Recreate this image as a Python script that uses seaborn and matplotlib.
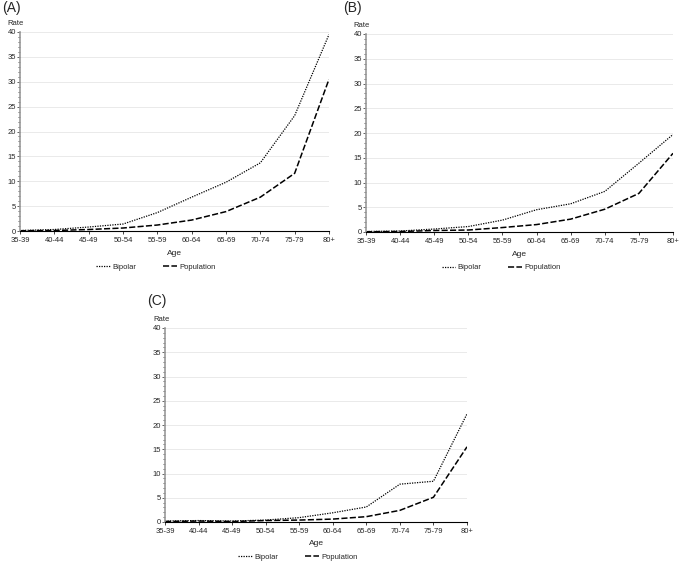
import numpy as np
import pandas as pd
import matplotlib
matplotlib.use("Agg")
import matplotlib.pyplot as plt
from matplotlib.ticker import MultipleLocator
import seaborn as sns

# age bands on the x axis
ages = ["35-39", "40-44", "45-49", "50-54", "55-59", "60-64",
        "65-69", "70-74", "75-79", "80+"]

# rates, one pair of series per panel
bipolar_a = [0.1, 0.3, 0.8, 1.4, 3.7, 6.8, 9.8, 13.7, 23.2, 39.5]
population_a = [0.05, 0.1, 0.3, 0.6, 1.2, 2.2, 3.9, 6.8, 11.6, 30.5]

bipolar_b = [0.1, 0.2, 0.6, 1.1, 2.4, 4.5, 5.7, 8.2, 13.9, 19.7]
population_b = [0.05, 0.1, 0.3, 0.4, 0.9, 1.5, 2.6, 4.6, 7.8, 15.9]

bipolar_c = [0.2, 0.3, 0.2, 0.4, 0.9, 1.9, 3.1, 7.8, 8.4, 22.3]
population_c = [0.1, 0.2, 0.1, 0.3, 0.4, 0.6, 1.1, 2.4, 5.1, 15.5]

panel_labels = ["(A)", "(B)", "(C)"]

sns.set_theme(style="white")
plt.rcParams["font.family"] = ["Liberation Sans", "DejaVu Sans"]

W, H = 679, 562
fig = plt.figure(figsize=(W / 100, H / 100), dpi=100)

# axes boxes in pixels: left, top, right, bottom
boxes = [(20, 32, 329, 231), (366, 34, 673, 232), (165, 328, 467, 522)]
# panel label positions in pixels (left, top)
label_pos = [(2, 1), (343, 1), (147, 294)]
data = [(bipolar_a, population_a), (bipolar_b, population_b),
        (bipolar_c, population_c)]

BIP_DASH = (1, 1)
POP_DASH = (4, 1.5)


def make_long(bip, pop):
    df = pd.DataFrame({
        "pos": list(range(len(ages))) * 2,
        "rate": bip + pop,
        "group": ["Bipolar"] * len(ages) + ["Population"] * len(ages),
    })
    return df


for (l, t, r, b), (bip, pop), lab, (lx, ly) in zip(boxes, data, panel_labels, label_pos):
    ax = fig.add_axes([l / W, 1 - b / H, (r - l) / W, (b - t) / H])
    df = make_long(bip, pop)
    sns.lineplot(data=df, x="pos", y="rate", style="group",
                 dashes={"Bipolar": BIP_DASH, "Population": POP_DASH},
                 color="black", ax=ax, legend=False)
    for line, lw in zip(ax.get_lines(), [0.9, 1.1]):
        line.set_linewidth(lw)

    ax.set_xlim(0, len(ages) - 1)
    ax.set_ylim(0, 40)
    ax.set_xticks(range(len(ages)))
    ax.set_xticklabels(ages, fontsize=5.5)
    ax.yaxis.set_major_locator(MultipleLocator(5))
    ax.yaxis.set_minor_locator(MultipleLocator(1))
    ax.tick_params(axis="y", labelsize=5.5, length=2, width=0.5, pad=1,
                   left=True, which="both")
    ax.tick_params(axis="y", which="minor", length=1.2)
    ax.tick_params(axis="x", length=2.5, width=0.6, pad=2, bottom=True)
    ax.grid(axis="y", color="#e6e6e6", linewidth=0.6)
    ax.set_axisbelow(True)

    for side in ["top", "right"]:
        ax.spines[side].set_visible(False)
    ax.spines["left"].set_color("#9a9a9a")
    ax.spines["left"].set_linewidth(1.2)
    ax.spines["bottom"].set_color("black")
    ax.spines["bottom"].set_linewidth(0.8)

    ax.set_xlabel("Age", fontsize=6)
    ax.xaxis.set_label_coords(0.5, -0.095)
    ax.set_ylabel("")
    ax.text(-0.04, 1.025, "Rate", transform=ax.transAxes, fontsize=5.5,
            ha="left", va="bottom")
    fig.text(lx / W, 1 - ly / H, lab, fontsize=10, ha="left", va="top")

    # legend below the axis label, sitting a little left of centre
    handles = [plt.Line2D([], [], color="black", lw=0.9, dashes=BIP_DASH),
               plt.Line2D([], [], color="black", lw=1.1, dashes=POP_DASH)]
    ax.legend(handles, ["Bipolar", "Population"], loc="upper center",
              bbox_to_anchor=(0.44, -0.135), ncol=2, frameon=False,
              fontsize=5.5, handlelength=1.8, columnspacing=3.5,
              handletextpad=0.3, borderpad=0.2)

fig.savefig("out.png", dpi=100)
